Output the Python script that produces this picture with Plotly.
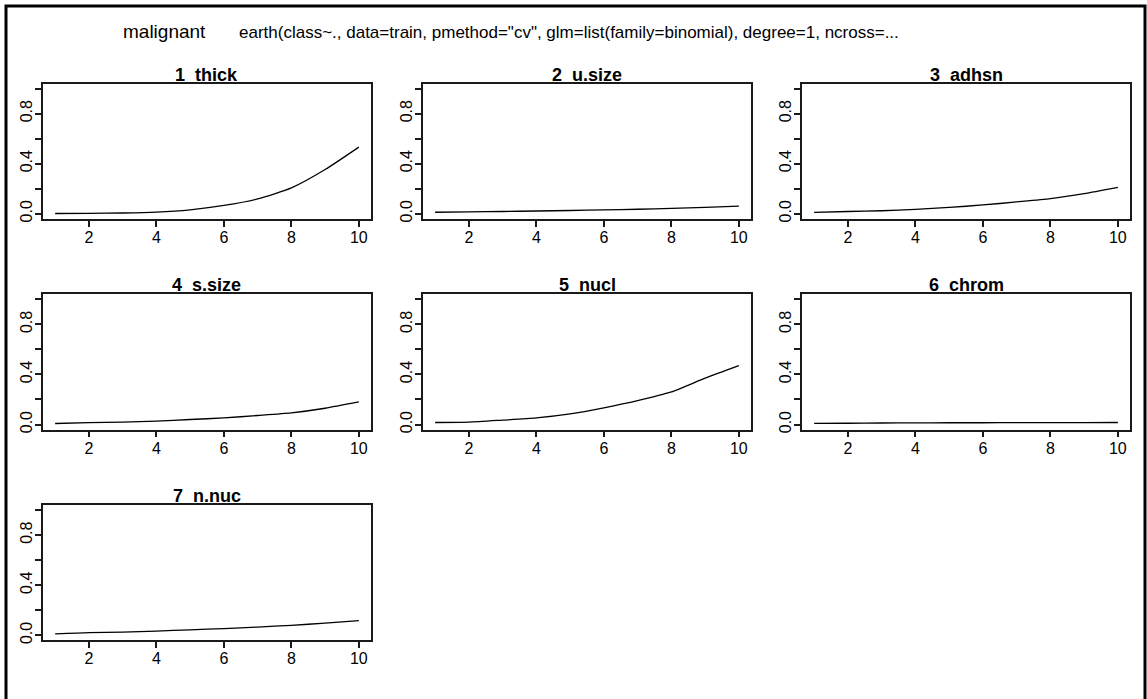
import plotly.graph_objects as go

# Predictor grid and partial-dependence curves (predicted probability of malignant)
x_grid = [1, 2, 3, 4, 5, 6, 7, 8, 9, 10]

panel_titles = ["1  thick", "2  u.size", "3  adhsn", "4  s.size", "5  nucl", "6  chrom", "7  n.nuc"]

thick = [0.002, 0.003, 0.006, 0.013, 0.031, 0.066, 0.118, 0.206, 0.353, 0.532]
u_size = [0.012, 0.015, 0.018, 0.022, 0.026, 0.031, 0.036, 0.043, 0.051, 0.061]
adhsn = [0.011, 0.018, 0.024, 0.035, 0.050, 0.070, 0.094, 0.120, 0.160, 0.210]
s_size = [0.008, 0.015, 0.019, 0.027, 0.040, 0.053, 0.072, 0.093, 0.130, 0.180]
nucl = [0.016, 0.019, 0.035, 0.053, 0.085, 0.133, 0.190, 0.260, 0.370, 0.470]
chrom = [0.009, 0.010, 0.012, 0.013, 0.014, 0.014, 0.015, 0.015, 0.015, 0.016]
n_nuc = [0.012, 0.022, 0.025, 0.034, 0.044, 0.054, 0.066, 0.080, 0.097, 0.117]

series = [thick, u_size, adhsn, s_size, nucl, chrom, n_nuc]

x_ticks = [2, 4, 6, 8, 10]
y_ticks = [0.0, 0.2, 0.4, 0.6, 0.8, 1.0]
y_tick_text = ["0.0", "", "0.4", "", "0.8", ""]

response_label = "malignant"
model_call = ('earth(class~., data=train, pmethod="cv", '
              'glm=list(family=binomial), degree=1, ncross=...')

W, H = 1147, 699
FONT = "Liberation Sans, Arial, sans-serif"

# panel boxes in pixels: (left, right) per column, (top, bottom) per row
cols = [(43, 371), (423, 751), (802, 1130)]
rows = [(84, 220), (296, 432), (508, 644)]


def px_x(v):
    return v / W


def px_y(v):
    return 1 - v / H


fig = go.Figure()
layout = dict(
    width=W, height=H,
    margin=dict(l=0, r=0, t=0, b=0),
    paper_bgcolor="white", plot_bgcolor="white",
    showlegend=False,
    font=dict(family=FONT, color="black"),
)

annotations = []
for i, (title, yvals) in enumerate(zip(panel_titles, series)):
    r, c = divmod(i, 3)
    (x0, x1), (y0, y1) = cols[c], rows[r]
    sfx = "" if i == 0 else str(i + 1)
    fig.add_trace(go.Scatter(
        x=x_grid, y=yvals, mode="lines",
        line=dict(color="black", width=1.3, shape="spline", smoothing=0.6),
        xaxis="x" + sfx, yaxis="y" + sfx, hoverinfo="skip",
    ))
    common = dict(
        showline=True, mirror=True, linecolor="#1a1a1a", linewidth=1.7,
        ticks="outside", ticklen=6, tickwidth=1.5, tickcolor="#1a1a1a",
        showgrid=False, zeroline=False,
        tickfont=dict(family=FONT, size=16, color="black"),
    )
    layout["xaxis" + sfx] = dict(
        domain=[px_x(x0), px_x(x1)], anchor="y" + sfx,
        range=[0.64, 10.36], tickvals=x_ticks, ticktext=[str(t) for t in x_ticks],
        ticklabelstandoff=-3,
        **common,
    )
    layout["yaxis" + sfx] = dict(
        domain=[px_y(y1), px_y(y0)], anchor="x" + sfx,
        range=[-0.04, 1.04], tickvals=y_ticks, ticktext=y_tick_text,
        tickangle=-90, ticklabelstandoff=-3, **common,
    )
    annotations.append(dict(
        text="<b>%s</b>" % title.replace("  ", "&nbsp;&nbsp;"),
        x=px_x((x0 + x1) / 2), y=px_y(y0 - 9),
        xref="paper", yref="paper", xanchor="center", yanchor="middle",
        showarrow=False, font=dict(family=FONT, size=18, color="black"),
    ))

# page caption: response name followed by the model call
annotations.append(dict(
    text=response_label,
    x=px_x(121), y=px_y(32), xref="paper", yref="paper",
    xanchor="left", yanchor="middle", showarrow=False,
    font=dict(family=FONT, size=19, color="black"),
))
annotations.append(dict(
    text=model_call,
    x=px_x(237), y=px_y(33), xref="paper", yref="paper",
    xanchor="left", yanchor="middle", showarrow=False,
    font=dict(family=FONT, size=17, color="black"),
))
layout["annotations"] = annotations

# outer frame around the whole page
layout["shapes"] = [dict(
    type="rect", xref="paper", yref="paper",
    x0=px_x(6), x1=px_x(1145), y0=px_y(705), y1=px_y(6),
    line=dict(color="black", width=3), fillcolor="rgba(0,0,0,0)",
)]

fig.update_layout(**layout)
fig.write_html("out.html")
